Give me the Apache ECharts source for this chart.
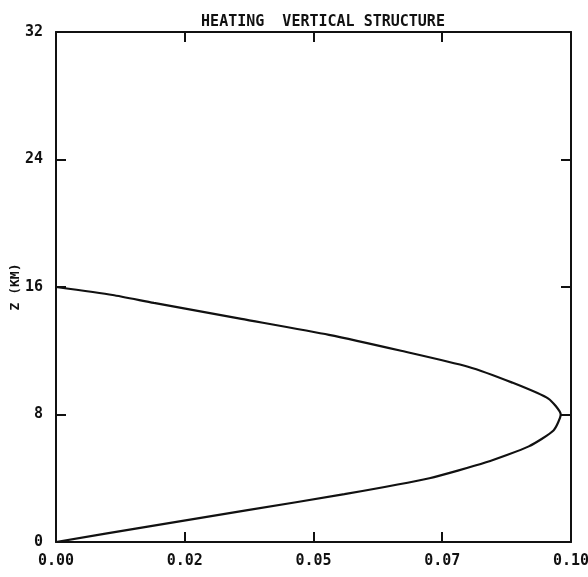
<!DOCTYPE html>
<html>
<head>
<meta charset="utf-8">
<script src="https://cdn.jsdelivr.net/npm/echarts@6/dist/echarts.min.js"></script>
<style>
  html, body { margin: 0; padding: 0; background: #fff; }
  #chart { width: 588px; height: 577px; }
</style>
</head>
<body>
<div id="chart"></div>
<script>
// Heating rate profile against height (km)
const heightKm = [0, 1, 2, 3, 4, 5, 6, 7, 8, 9, 10, 11, 12, 13, 14, 15, 15.5, 16];
const heating = [0, 0.0184, 0.0372, 0.0560, 0.0725, 0.0835, 0.0918, 0.0966, 0.0980,
                 0.0956, 0.0886, 0.0800, 0.0670, 0.0530, 0.0360, 0.0190, 0.011, 0];

const xTickLabels = ['0.00', '0.02', '0.05', '0.07', '0.10'];
const yTickLabels = ['0', '8', '16', '24', '32'];

const titleText = 'HEATING  VERTICAL STRUCTURE';
const yName = 'Z (KM)';

const font = 'DejaVu Sans Mono';
const ink = '#111';

const chart = echarts.init(document.getElementById('chart'), null, { renderer: 'canvas' });

const frameAxis = {
  axisLine: { show: true, onZero: false, lineStyle: { color: ink, width: 2 } },
  axisTick: { show: true, inside: true, length: 10, lineStyle: { color: ink, width: 2 } },
  splitLine: { show: false }
};

chart.setOption({
  animation: false,
  backgroundColor: '#fff',
  title: {
    text: titleText,
    left: 318,
    textAlign: 'center',
    top: 10,
    textStyle: { fontFamily: font, fontWeight: 'bold', fontSize: 15, color: ink }
  },
  grid: { left: 56, right: 17, top: 32, bottom: 35, containLabel: false, outerBoundsMode: 'none' },
  xAxis: [
    Object.assign({}, frameAxis, {
      type: 'value', position: 'bottom', min: 0, max: 0.1, interval: 0.025,
      axisLabel: {
        show: true, margin: 12, color: ink, fontFamily: font, fontWeight: 'bold', fontSize: 15,
        formatter: v => xTickLabels[Math.round(v / 0.025)]
      }
    }),
    Object.assign({}, frameAxis, {
      type: 'value', position: 'top', min: 0, max: 0.1, interval: 0.025,
      axisLabel: { show: false }
    })
  ],
  yAxis: [
    Object.assign({}, frameAxis, {
      type: 'value', position: 'left', min: 0, max: 32, interval: 8,
      name: yName, nameLocation: 'middle', nameRotate: 90, nameGap: 34, nameMoveOverlap: false,
      nameTextStyle: { fontFamily: font, fontWeight: 'bold', fontSize: 13, color: ink },
      axisLabel: {
        show: true, margin: 13, color: ink, fontFamily: font, fontWeight: 'bold', fontSize: 15,
        formatter: v => yTickLabels[Math.round(v / 8)]
      }
    }),
    Object.assign({}, frameAxis, {
      type: 'value', position: 'right', min: 0, max: 32, interval: 8,
      axisLabel: { show: false }
    })
  ],
  series: [{
    type: 'line',
    xAxisIndex: 0,
    yAxisIndex: 0,
    data: heightKm.map((z, i) => [heating[i], z]),
    showSymbol: false,
    smooth: 0.2,
    lineStyle: { color: ink, width: 2.2 }
  }]
});
</script>
</body>
</html>
